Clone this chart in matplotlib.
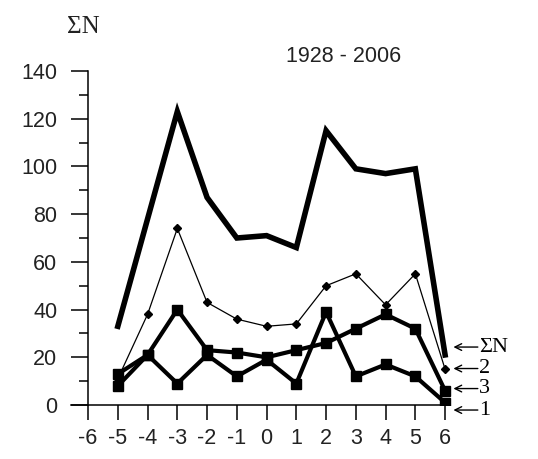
import numpy as np
import matplotlib.pyplot as plt

# phase index and counts (1928 - 2006)
x = [-5, -4, -3, -2, -1, 0, 1, 2, 3, 4, 5, 6]
sum_n = [33, 78, 123, 87, 70, 71, 66, 115, 99, 97, 99, 21]
series_2 = [11, 38, 74, 43, 36, 33, 34, 50, 55, 42, 55, 15]
series_3 = [13, 21, 40, 23, 22, 20, 23, 26, 32, 38, 32, 6]
series_1 = [8, 21, 9, 21, 12, 19, 9, 39, 12, 17, 12, 1]

x_ticks = [-6, -5, -4, -3, -2, -1, 0, 1, 2, 3, 4, 5, 6]
y_ticks = [0, 20, 40, 60, 80, 100, 120, 140]
y_minor = [10, 30, 50, 70, 90, 110, 130]

end_labels = ['ΣN', '2', '3', '1']
end_label_y = [24.3, 15.3, 6.9, -2.1]

plt.rcParams['font.family'] = ['Liberation Sans', 'DejaVu Sans']
serif = ['Liberation Serif', 'DejaVu Serif']

fig = plt.figure(figsize=(5.38, 4.59), dpi=100)
ax = fig.add_axes([0.1305, 0.1176, 0.730, 0.7277])

ax.plot(x, sum_n, color='black', lw=4, solid_joinstyle='miter')
ax.plot(x, series_2, color='black', lw=0.9, marker='D', ms=4)
ax.plot(x, series_3, color='black', lw=3, marker='s', ms=6.5)
ax.plot(x, series_1, color='black', lw=3, marker='s', ms=6.5)

ax.set_xlim(-6.6, 6.6)
ax.set_ylim(0, 140)

for s in ['top', 'right']:
    ax.spines[s].set_visible(False)
ax.spines['left'].set_position(('data', -6))
ax.spines['bottom'].set_bounds(-6.57, 6)
ax.spines['left'].set_linewidth(1.1)
ax.spines['bottom'].set_linewidth(1.1)

ax.set_xticks(x_ticks)
ax.set_xticklabels([str(t) for t in x_ticks])
ax.set_yticks(y_ticks)
ax.set_yticks(y_minor, minor=True)
ax.tick_params(axis='x', direction='out', length=10.8, width=1.1, pad=6,
               labelsize=15.5, labelcolor='#222222')
ax.tick_params(axis='y', which='major', direction='out', length=12.2, width=1.1, pad=10,
               labelsize=15.5, labelcolor='#222222')
ax.tick_params(axis='y', which='minor', direction='out', length=6.5, width=1.1)

# arrows pointing at the line ends, with labels
for lab, yy in zip(end_labels, end_label_y):
    ax.annotate('', xy=(6.28, yy), xytext=(7.1, yy), annotation_clip=False,
                arrowprops=dict(arrowstyle='->', lw=1, color='black',
                                shrinkA=0, shrinkB=0, mutation_scale=12))
    ax.text(7.15, yy, lab, ha='left', va='center', fontsize=16,
            family=serif, clip_on=False)

fig.text(83 / 538, 1 - 27 / 459, 'ΣN', ha='center', va='center', fontsize=18,
         family=serif, color='#222222')
fig.text(344 / 538, 1 - 57 / 459, '1928 - 2006', ha='center', va='center',
         fontsize=15.5, color='#222222')

fig.savefig('out.png', dpi=100)
